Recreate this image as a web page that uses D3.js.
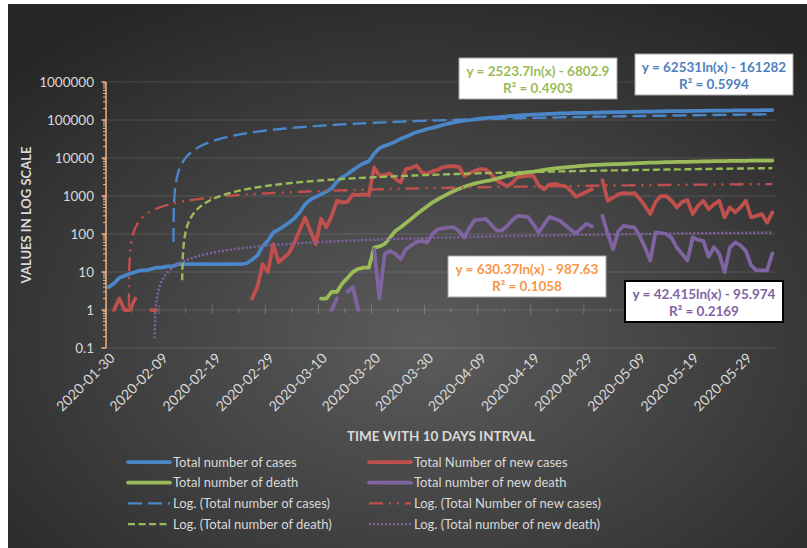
<!DOCTYPE html>
<html>
<head>
<meta charset="utf-8">
<script src="https://cdn.jsdelivr.net/npm/d3@7"></script>
<style>
body { margin: 0; background: #fff; }
svg text { font-family: Lato, "Open Sans", sans-serif; }
</style>
</head>
<body>
<div id="chart"></div>
<script>
// daily values, first day 2020-01-30, null = nothing plotted (0 on a log axis)
var startDate = "2020-01-30";
var nDays = 126;

var totalCases = [4,5,7,8,9,10,11,11,12,13,
  13,14,14,16,16,16,16,16,16,16,
  16,16,16,16,16,16,17,21,27,48,
  66,110,130,160,200,260,380,600,800,950,
  1100,1300,1600,2400,3100,3800,4800,6000,7200,8200,
  13000,18000,21000,23500,27000,32000,36000,42000,48000,52000,
  58000,62000,68000,74000,80000,86000,92000,96000,100000,104000,
  108000,112000,115000,118000,121000,124000,128000,131000,134000,137000,
  139000,141000,143000,145000,147000,149000,150000,152000,153000,154000,
  155000,156000,157000,158000,159000,160000,161000,162000,163000,164000,
  165000,166000,167000,168000,169000,170000,170500,171000,171500,172000,
  173000,174000,175000,175500,176000,176500,177000,177500,178000,179000,
  179500,180000,180500,181000,182000,182500];

var newCases = [null,1,2,1,1,2,null,null,1,1,
  null,null,null,null,null,null,null,null,null,null,
  null,null,null,null,null,null,null,2,4,16,
  10,54,18,24,32,60,130,270,120,54,
  250,150,300,750,680,700,1100,1050,1100,1050,
  5650,3400,3600,3900,2800,2300,5100,5500,6300,4200,
  3800,4500,4900,5800,6000,6100,5800,3400,4000,4600,
  5100,5000,3800,2600,2200,1800,2200,3100,3300,3400,
  3400,1900,1500,2000,2100,1900,1800,1400,960,1100,
  1300,1500,null,2600,750,900,1100,1200,1150,1200,
  850,550,335,700,1000,1000,750,500,700,790,
  335,550,750,450,600,750,273,500,370,500,
  750,273,300,335,200,370];

var totalDeaths = [null,null,null,null,null,null,null,null,null,null,
  null,null,null,null,null,null,null,null,null,null,
  null,null,null,null,null,null,null,null,null,null,
  null,null,null,null,null,null,null,null,null,null,
  2,2,3,3,5,7,10,12,13,13,
  44,47,55,80,120,150,195,250,330,420,
  540,680,820,980,1150,1350,1550,1750,1950,2150,
  2300,2450,2600,2850,3100,3350,3600,3850,4050,4250,
  4400,4600,4850,5100,5300,5500,5700,5850,6000,6200,
  6350,6450,6550,6650,6750,6850,6950,7050,7150,7250,
  7350,7450,7520,7600,7680,7740,7800,7850,7900,7950,
  8000,8060,8120,8180,8230,8270,8310,8340,8380,8420,
  8460,8490,8520,8540,8560,8580];

var newDeaths = [null,null,null,null,null,null,null,null,null,null,
  null,null,null,null,null,null,null,null,null,null,
  null,null,null,null,null,null,null,null,null,null,
  null,null,null,null,null,null,null,null,null,null,
  null,null,1,2,null,3,4,1,null,null,
  40,2,30,36,30,22,40,50,62,66,
  60,100,134,140,150,150,120,81,150,234,
  240,250,180,125,122,160,230,300,290,280,
  180,110,180,280,250,224,170,130,104,140,
  185,160,null,300,100,40,120,165,155,150,
  90,45,20,110,105,100,80,44,30,20,
  81,70,66,25,45,30,10,44,60,50,
  36,15,11,11,11,31];

var seriesNames = ["Total number of cases", "Total Number of new cases",
  "Total number of death", "Total number of new death"];
var seriesColors = ["#4a86c8", "#c0504d", "#9bbb59", "#8064a2"];

// Excel logarithmic trendlines: y = a ln(x) + b
var trendSlope = [62531, 630.37, 2523.7, 42.415];
var trendIntercept = [-161282, -987.63, -6802.9, -95.974];
var trendR2 = ["0.5994", "0.1058", "0.4903", "0.2169"];
var trendTextColors = ["#4f81bd", "#f79646", "#9bbb59", "#8064a2"];
var trendDash = ["14,6", "14,6,2,6,2,6", "7,3.5", "2,2"];

var yTicks = [0.1, 1, 10, 100, 1000, 10000, 100000, 1000000];

var width = 807, height = 548;
var plotLeft = 106, plotRight = 775, plotTop = 82, plotBottom = 348;

var svg = d3.select("#chart")
  .append("svg")
    .attr("width", width)
    .attr("height", height);

var defs = svg.append("defs");
var grad = defs.append("radialGradient")
    .attr("id", "bg")
    .attr("cx", "52%").attr("cy", "62%").attr("r", "72%");
grad.append("stop").attr("offset", "0%").attr("stop-color", "#5c5c5c");
grad.append("stop").attr("offset", "100%").attr("stop-color", "#262626");

defs.append("clipPath").attr("id", "plotclip")
  .append("rect")
    .attr("x", plotLeft).attr("y", plotTop)
    .attr("width", plotRight - plotLeft).attr("height", plotBottom - plotTop);

svg.append("rect")
    .attr("x", 8).attr("y", 4)
    .attr("width", width - 8).attr("height", height - 4)
    .attr("fill", "url(#bg)");

var x = d3.scaleLinear().domain([0.5, nDays + 0.5]).range([plotLeft, plotRight]);
var y = d3.scaleLog().domain([0.1, 1000000]).range([plotBottom, plotTop]);

var parseDate = d3.timeParse("%Y-%m-%d");
var fmt = d3.timeFormat("%Y-%m-%d");
var day0 = parseDate(startDate);

// gridlines
svg.append("g")
  .selectAll("line")
    .data(yTicks)
    .enter()
      .append("line")
      .attr("x1", plotLeft).attr("x2", plotRight)
      .attr("y1", function(d) { return y(d); })
      .attr("y2", function(d) { return y(d); })
      .attr("stroke", "rgba(255,255,255,0.13)")
      .attr("stroke-width", 1);

// horizontal axis crosses at 1: tick marks there
var xTickG = svg.append("g").attr("stroke", "rgba(255,255,255,0.22)");
d3.range(0, nDays + 1, 5).forEach(function(k) {
    var major = k % 10 == 0;
    xTickG.append("line")
        .attr("x1", x(k + 0.5)).attr("x2", x(k + 0.5))
        .attr("y1", y(1) - (major ? 5 : 2))
        .attr("y2", y(1) + (major ? 4 : 3));
});

// y axis with log minor ticks
var yAxisG = svg.append("g").attr("stroke", "#f4b183");
yAxisG.append("line")
    .attr("x1", plotLeft).attr("x2", plotLeft)
    .attr("y1", plotTop).attr("y2", plotBottom)
    .attr("stroke-width", 1.5);
yTicks.forEach(function(t, i) {
    yAxisG.append("line")
        .attr("x1", plotLeft - 4.5).attr("x2", plotLeft)
        .attr("y1", y(t)).attr("y2", y(t))
        .attr("stroke-width", 1.5);
    if (i < yTicks.length - 1) {
        for (var m = 2; m < 10; m++) {
            yAxisG.append("line")
                .attr("x1", plotLeft - 3).attr("x2", plotLeft)
                .attr("y1", y(t * m)).attr("y2", y(t * m))
                .attr("stroke-width", 1);
        }
    }
});

svg.append("g")
  .selectAll("text")
    .data(yTicks)
    .enter()
      .append("text")
      .attr("x", 94)
      .attr("y", function(d) { return y(d) + 5; })
      .attr("text-anchor", "end")
      .attr("fill", "#d9d9d9")
      .style("font-size", "13.5px")
      .text(function(d) { return d3.format("~f")(d); });

// date labels every 10 days
svg.append("g")
  .selectAll("text")
    .data(d3.range(0, nDays, 10))
    .enter()
      .append("text")
      .attr("transform", function(i) {
        return "translate(" + (x(i + 1) + 7) + "," + 359 + ") rotate(-45)";
      })
      .attr("text-anchor", "end")
      .attr("fill", "#d9d9d9")
      .style("font-size", "14px")
      .text(function(i) { return fmt(d3.timeDay.offset(day0, i)); });

svg.append("text")
    .attr("x", 441).attr("y", 441)
    .attr("text-anchor", "middle")
    .attr("fill", "#d9d9d9")
    .style("font-size", "13.5px").style("font-weight", "bold")
    .text("TIME WITH 10 DAYS INTRVAL");

svg.append("text")
    .attr("transform", "translate(31,215) rotate(-90)")
    .attr("text-anchor", "middle")
    .attr("fill", "#d9d9d9")
    .style("font-size", "13px").style("font-weight", "bold")
    .text("VALUES IN LOG SCALE");

// data lines
var plot = svg.append("g").attr("clip-path", "url(#plotclip)");

var line = d3.line()
    .defined(function(d) { return d != null && d > 0; })
    .x(function(d, i) { return x(i + 1); })
    .y(function(d) { return y(d); });

[totalCases, newCases, totalDeaths, newDeaths].forEach(function(s, k) {
    plot.append("path")
        .datum(s)
        .attr("d", line)
        .attr("fill", "none")
        .attr("stroke", seriesColors[k])
        .attr("stroke-width", 3.75)
        .attr("stroke-linejoin", "round")
        .attr("stroke-linecap", "round");
});

// trendlines
var xs = d3.range(1, nDays + 0.001, 0.05);
var trendLine = d3.line()
    .defined(function(d) { return d[1] > 0; })
    .x(function(d) { return x(d[0]); })
    .y(function(d) { return y(d[1]); });

trendSlope.forEach(function(a, k) {
    var pts = xs.map(function(t) { return [t, a * Math.log(t) + trendIntercept[k]]; });
    plot.append("path")
        .datum(pts)
        .attr("d", trendLine)
        .attr("fill", "none")
        .attr("stroke", seriesColors[k])
        .attr("stroke-width", 2.4)
        .attr("stroke-dasharray", trendDash[k]);
});

// equation labels
var boxes = [
    {k: 0, x: 635, y: 54, border: "#a6a6a6", bw: 1},
    {k: 1, x: 448, y: 256, border: "#a6a6a6", bw: 1},
    {k: 2, x: 459, y: 58, border: "#a6a6a6", bw: 1},
    {k: 3, x: 625, y: 281, border: "#000", bw: 2}
];
boxes.forEach(function(b) {
    var g = svg.append("g").attr("transform", "translate(" + b.x + "," + b.y + ")");
    g.append("rect")
        .attr("width", 158).attr("height", 41)
        .attr("fill", "#fff")
        .attr("stroke", b.border).attr("stroke-width", b.bw);
    var a = trendSlope[b.k], c = trendIntercept[b.k];
    var eq = "y = " + a + "ln(x) " + (c < 0 ? "- " : "+ ") + Math.abs(c);
    g.append("text")
        .attr("x", 79).attr("y", 18)
        .attr("text-anchor", "middle")
        .attr("fill", trendTextColors[b.k])
        .style("font-size", "13.5px").style("font-weight", "bold")
        .text(eq);
    g.append("text")
        .attr("x", 79).attr("y", 35)
        .attr("text-anchor", "middle")
        .attr("fill", trendTextColors[b.k])
        .style("font-size", "13.5px").style("font-weight", "bold")
        .text("R² = " + trendR2[b.k]);
});

// legend: two columns, series rows then trendline rows
var legendItems = [
    {k: 0, col: 0, row: 0, trend: false},
    {k: 1, col: 1, row: 0, trend: false},
    {k: 2, col: 0, row: 1, trend: false},
    {k: 3, col: 1, row: 1, trend: false},
    {k: 0, col: 0, row: 2, trend: true},
    {k: 1, col: 1, row: 2, trend: true},
    {k: 2, col: 0, row: 3, trend: true},
    {k: 3, col: 1, row: 3, trend: true}
];
var legend = svg.append("g");
legendItems.forEach(function(it) {
    var lx = it.col == 0 ? 128 : 369;
    var ly = 462 + it.row * 20.7;
    legend.append("line")
        .attr("x1", lx).attr("x2", lx + 42)
        .attr("y1", ly).attr("y2", ly)
        .attr("stroke", seriesColors[it.k])
        .attr("stroke-width", it.trend ? 2.4 : 3.75)
        .attr("stroke-linecap", it.trend ? "butt" : "round")
        .attr("stroke-dasharray", it.trend ? trendDash[it.k] : null);
    legend.append("text")
        .attr("x", lx + 45).attr("y", ly + 4.5)
        .attr("fill", "#d9d9d9")
        .style("font-size", "13px")
        .text(it.trend ? "Log. (" + seriesNames[it.k] + ")" : seriesNames[it.k]);
});
</script>
</body>
</html>
